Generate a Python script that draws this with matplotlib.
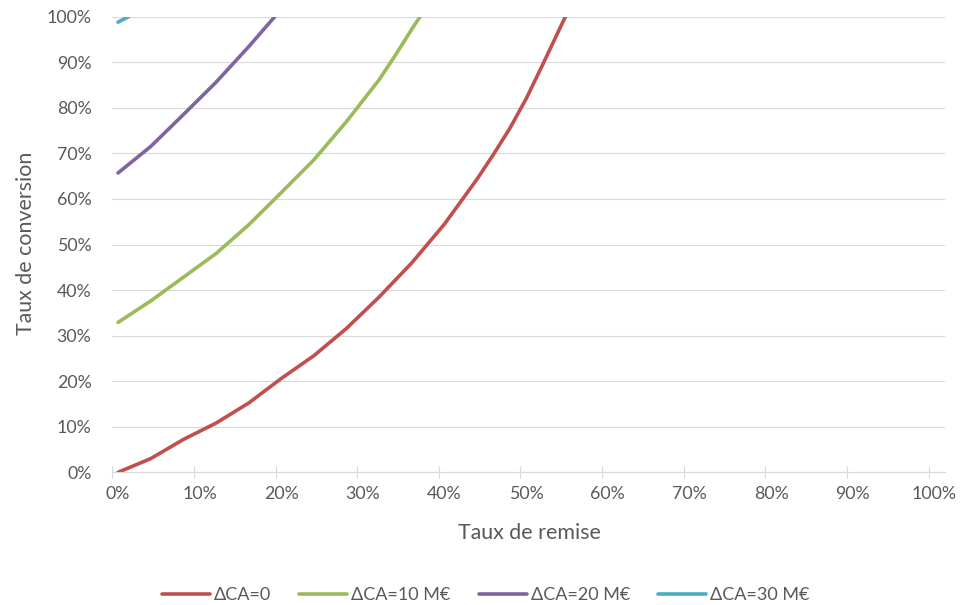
import matplotlib.pyplot as plt

plt.rcParams['font.family'] = ['Lato', 'DejaVu Sans']

# Taux de remise (%) / taux de conversion (%) pour chaque écart de CA
remise_0 = [0, 4, 8, 12, 16, 20, 24, 28, 32, 36, 40, 44, 46, 48, 50, 52, 54.8]
conv_0 = [0, 3.0, 7.2, 10.8, 15.2, 20.6, 25.6, 31.6, 38.5, 46.0, 54.5, 64.4,
          69.8, 75.5, 82.0, 89.4, 100]

remise_10 = [0, 4, 8, 12, 16, 20, 24, 28, 32, 34, 36, 37.0]
conv_10 = [32.9, 37.6, 42.8, 48.0, 54.3, 61.4, 68.6, 77.0, 86.2, 91.6, 97.3, 100]

remise_20 = [0, 4, 8, 12, 16, 19.2]
conv_20 = [65.7, 71.5, 78.5, 85.6, 93.4, 100]

remise_30 = [0, 1.3]
conv_30 = [98.8, 100]

labels = ['ΔCA=0', 'ΔCA=10 M€', 'ΔCA=20 M€', 'ΔCA=30 M€']
colors = ['#C0504D', '#9BBB59', '#8064A2', '#4BACC6']
series = [(remise_0, conv_0), (remise_10, conv_10),
          (remise_20, conv_20), (remise_30, conv_30)]

x_ticks = list(range(0, 101, 10))
y_ticks = list(range(0, 101, 10))

grey = '#595959'
grid = '#D9D9D9'

fig = plt.figure(figsize=(9.73, 6.05), dpi=100)
ax = fig.add_axes([0.1154, 0.2193, 0.8558, 0.7531])

for (xs, ys), lab, col in zip(series, labels, colors):
    ax.plot(xs, ys, color=col, lw=2.6, label=lab,
            solid_capstyle='round', solid_joinstyle='round')

ax.set_xlim(-0.7, 101.3)
ax.set_ylim(0, 100)

# axe X : graduations entre les catégories, étiquettes au centre
ax.set_xticks(x_ticks)
ax.set_xticklabels([f'{t}%' for t in x_ticks])
ax.set_xticks([t - 0.7 for t in x_ticks], minor=True)
ax.tick_params(axis='x', which='major', length=0, pad=10, labelsize=12.8, labelcolor=grey)
ax.tick_params(axis='x', which='minor', direction='inout', length=8.5, width=0.8, color=grid)

ax.set_yticks(y_ticks)
ax.set_yticklabels([f'{t}%' for t in y_ticks])
ax.tick_params(axis='y', length=0, pad=15, labelsize=12.8, labelcolor=grey)

ax.yaxis.grid(True, color=grid, lw=0.8)
ax.set_axisbelow(True)
for side in ['top', 'right', 'left']:
    ax.spines[side].set_visible(False)
ax.spines['bottom'].set_color(grid)
ax.spines['bottom'].set_linewidth(0.8)

ax.set_xlabel('Taux de remise', fontsize=15.4, color=grey)
ax.set_ylabel('Taux de conversion', fontsize=15.4, color=grey)
ax.xaxis.set_label_coords(0.5004, -0.133)
ax.xaxis.label.set_verticalalignment('center')
ax.yaxis.set_label_coords(-0.1036, 0.503)
ax.yaxis.label.set_verticalalignment('center')

fig.legend(loc='center', bbox_to_anchor=(0.4992, 0.0165), ncol=4, frameon=False,
           fontsize=13, handlelength=2.66, handletextpad=0.22, columnspacing=1.55,
           labelcolor=grey)

fig.savefig('out.png', dpi=100)
